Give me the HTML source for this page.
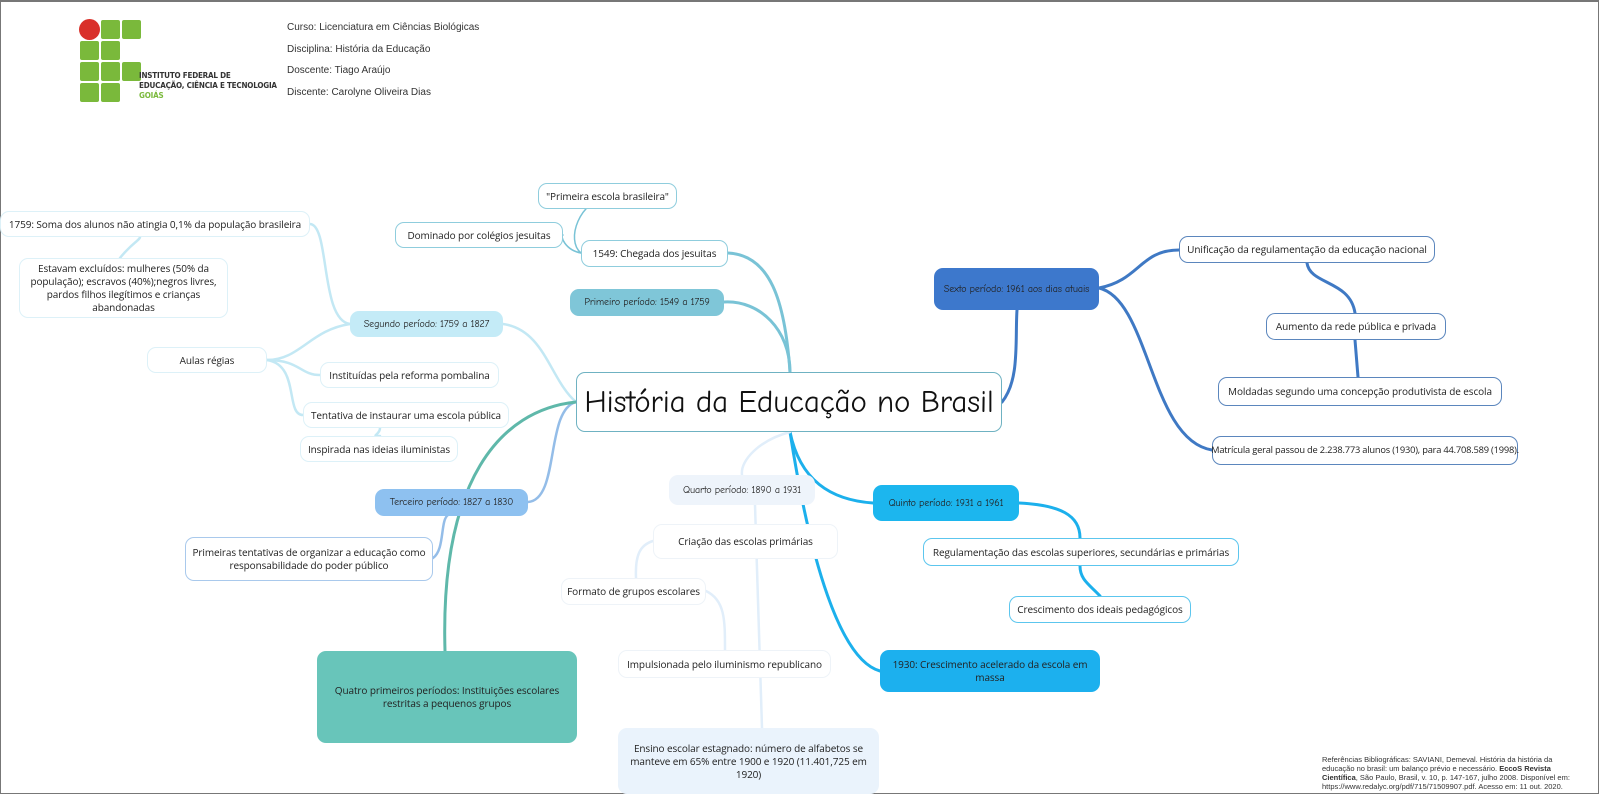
<!DOCTYPE html>
<html><head><meta charset="utf-8"><style>
body{margin:0;width:1600px;height:809px;background:#fff;position:relative;overflow:hidden;font-family:"Open Sans","DejaVu Sans","Liberation Sans",sans-serif;}
.frame{position:absolute;left:0;top:0;width:1597px;height:791px;border:1px solid #777;border-top:2px solid #777;}
.n{position:absolute;box-sizing:border-box;display:flex;align-items:center;justify-content:center;text-align:center;font-size:10px;color:#222;border-radius:9px;background:#fff;line-height:1.3;padding:0 2px;white-space:nowrap;letter-spacing:-0.1px;}
.h{font-family:"Comic Neue","Liberation Sans",sans-serif;}
.t{position:absolute;font-family:"Liberation Sans",sans-serif;font-size:10px;color:#333;}
.sq{position:absolute;width:19px;height:19px;background:#7ab93b;border-radius:2px;}
</style></head><body>
<div class="frame"></div>
<svg width="1600" height="809" style="position:absolute;left:0;top:0" fill="none" stroke-linecap="round">
<g stroke="#79c3d6" stroke-width="3">
<path d="M790 372 C790 330 760 300 724 302"/>
<path d="M790 372 C785 300 770 255 728 253"/>
</g>
<g stroke="#79c3d6" stroke-width="1.5">
<path d="M581 253 C565 250 560 236 563 235"/>
<path d="M581 253 C565 240 580 200 608 197"/>
</g>
<g stroke="#c3e8f4" stroke-width="2.5">
<path d="M576 402 C550 380 545 330 503 324"/>
<path d="M350 324 C320 320 330 225 310 224"/>
<path d="M350 324 C310 330 300 360 267 360"/>
<path d="M267 360 C300 360 300 375 320 375"/>
<path d="M267 360 C300 365 285 415 303 415"/>
<path d="M120 258 C130 245 140 240 140 237"/>
<path d="M380 428 C380 435 370 436 380 436"/>
</g>
<g stroke="#94bde8" stroke-width="2.5">
<path d="M576 402 C545 410 560 500 528 502"/>
<path d="M433 558 C445 550 440 520 448 515"/>
</g>
<path d="M576 402 C500 410 440 480 445 651" stroke="#5fb8aa" stroke-width="3"/>
<g stroke="#1cb0ec" stroke-width="3">
<path d="M790 432 C800 480 830 500 873 503"/>
<path d="M790 432 C810 560 840 660 880 671"/>
<path d="M1019 503 C1060 505 1080 515 1080 538"/>
<path d="M1080 566 C1080 580 1090 585 1100 596"/>
</g>
<g stroke="#e1eefa" stroke-width="2.5">
<path d="M790 432 C760 440 740 460 742 475"/>
<path d="M755 505 L762 728"/>
<path d="M653 541 C640 545 635 555 636 578"/>
<path d="M706 591 C725 600 725 620 725 650"/>
</g>
<g stroke="#3f79c4" stroke-width="3">
<path d="M1002 402 C1020 380 1015 340 1017 310"/>
<path d="M1099 288 C1140 280 1140 250 1179 250"/>
<path d="M1099 288 C1150 300 1150 440 1212 450"/>
<path d="M1307 263 C1310 285 1350 280 1355 313"/>
<path d="M1355 340 L1358 377"/>
</g>
</svg>
<!-- logo -->
<div style="position:absolute;left:79px;top:19px;width:21px;height:21px;border-radius:50%;background:#d9302a"></div>
<div class="sq" style="left:101px;top:20px"></div><div class="sq" style="left:122px;top:20px"></div>
<div class="sq" style="left:80px;top:41px"></div><div class="sq" style="left:101px;top:41px"></div>
<div class="sq" style="left:80px;top:62px"></div><div class="sq" style="left:101px;top:62px"></div><div class="sq" style="left:122px;top:62px"></div>
<div class="sq" style="left:80px;top:83px"></div><div class="sq" style="left:101px;top:83px"></div>
<div style="position:absolute;left:139px;top:71px;font-family:'DejaVu Sans Condensed','Liberation Sans Narrow',sans-serif;font-weight:bold;font-size:8px;line-height:10px;color:#333;letter-spacing:-0.2px;white-space:nowrap">INSTITUTO FEDERAL DE<br>EDUCAÇÃO, CIÊNCIA E TECNOLOGIA<br><span style="color:#7ab93b">GOIÁS</span></div>
<div class="t" style="left:287px;top:22px">Curso: Licenciatura em Ciências Biológicas</div>
<div class="t" style="left:287px;top:44px">Disciplina: História da Educação</div>
<div class="t" style="left:287px;top:65px">Doscente: Tiago Araújo</div>
<div class="t" style="left:287px;top:87px">Discente: Carolyne Oliveira Dias</div>
<div class="t" style="left:1322px;top:755px;font-size:7.5px;line-height:9px;width:260px">Referências Bibliográficas: SAVIANI, Demeval. História da história da educação no brasil: um balanço prévio e necessário. <b>EccoS Revista Científica</b>, São Paulo, Brasil, v. 10, p. 147-167, julho 2008. Disponível em: https://www.redalyc.org/pdf/715/71509907.pdf. Acesso em: 11 out. 2020.</div>

<div class="n h" style="left:576px;top:372px;width:426px;height:60px;border:1.5px solid #6fb2c2;font-size:31px;color:#111">História da Educação no Brasil</div>
<div class="n" style="left:538px;top:183px;width:139px;height:26px;border:1.5px solid #8fcddd">"Primeira escola brasileira"</div>
<div class="n" style="left:395px;top:222px;width:168px;height:26px;border:1.5px solid #8fcddd">Dominado por colégios jesuitas</div>
<div class="n" style="left:581px;top:240px;width:147px;height:27px;border:1.5px solid #8fcddd">1549: Chegada dos jesuitas</div>
<div class="n h" style="left:570px;top:289px;width:154px;height:27px;background:#7fc6d8">Primeiro período: 1549 a 1759</div>
<div class="n" style="left:0px;top:211px;width:310px;height:26px;border:1.5px solid #ddf1f8">1759: Soma dos alunos não atingia 0,1% da população brasileira</div>
<div class="n" style="left:19px;top:258px;width:209px;height:60px;border:1.5px solid #ddf1f8">Estavam excluídos: mulheres (50% da<br>população); escravos (40%);negros livres,<br>pardos filhos ilegítimos e crianças<br>abandonadas</div>
<div class="n h" style="left:350px;top:311px;width:153px;height:26px;background:#c4ebf7">Segundo período: 1759 a 1827</div>
<div class="n" style="left:147px;top:347px;width:120px;height:26px;border:1.5px solid #ddf1f8">Aulas régias</div>
<div class="n" style="left:320px;top:362px;width:179px;height:26px;border:1.5px solid #ddf1f8">Instituídas pela reforma pombalina</div>
<div class="n" style="left:303px;top:402px;width:206px;height:26px;border:1.5px solid #ddf1f8">Tentativa de instaurar uma escola pública</div>
<div class="n" style="left:300px;top:436px;width:158px;height:26px;border:1.5px solid #ddf1f8">Inspirada nas ideias iluministas</div>
<div class="n h" style="left:375px;top:489px;width:153px;height:27px;background:#8ec1f0">Terceiro período: 1827 a 1830</div>
<div class="n" style="left:185px;top:537px;width:248px;height:44px;border:1.5px solid #a9c9ec">Primeiras tentativas de organizar a educação como<br>responsabilidade do poder público</div>
<div class="n" style="left:317px;top:651px;width:260px;height:92px;background:#68c5ba">Quatro primeiros períodos: Instituições escolares<br>restritas a pequenos grupos</div>
<div class="n h" style="left:669px;top:475px;width:146px;height:30px;background:#eef4fb">Quarto período: 1890 a 1931</div>
<div class="n" style="left:653px;top:524px;width:185px;height:35px;border:1.5px solid #eef3f8">Criação das escolas primárias</div>
<div class="n" style="left:561px;top:578px;width:145px;height:27px;border:1.5px solid #eef3f8">Formato de grupos escolares</div>
<div class="n" style="left:618px;top:650px;width:213px;height:28px;border:1.5px solid #eef3f8">Impulsionada pelo iluminismo republicano</div>
<div class="n" style="left:618px;top:728px;width:261px;height:66px;background:#eaf3fc">Ensino escolar estagnado: número de alfabetos se<br>manteve em 65% entre 1900 e 1920 (11.401,725 em<br>1920)</div>
<div class="n h" style="left:873px;top:485px;width:146px;height:36px;background:#1cb6ee">Quinto período: 1931 a 1961</div>
<div class="n" style="left:923px;top:538px;width:316px;height:28px;border:1.5px solid #5cc6ee">Regulamentação das escolas superiores, secundárias e primárias</div>
<div class="n" style="left:1009px;top:596px;width:182px;height:27px;border:1.5px solid #5cc6ee">Crescimento dos ideais pedagógicos</div>
<div class="n" style="left:880px;top:650px;width:220px;height:42px;background:#1cb0ee">1930: Crescimento acelerado da escola em<br>massa</div>
<div class="n h" style="left:934px;top:268px;width:165px;height:42px;background:#3d78cc">Sexto período: 1961 aos dias atuais</div>
<div class="n" style="left:1179px;top:236px;width:256px;height:27px;border:1.5px solid #5b86bd">Unificação da regulamentação da educação nacional</div>
<div class="n" style="left:1266px;top:313px;width:180px;height:27px;border:1.5px solid #5b86bd">Aumento da rede pública e privada</div>
<div class="n" style="left:1218px;top:377px;width:284px;height:29px;border:1.5px solid #5b86bd">Moldadas segundo uma concepção produtivista de escola</div>
<div class="n" style="left:1212px;top:436px;width:306px;height:29px;border:1.5px solid #5b86bd;font-size:9.3px;letter-spacing:-0.2px">Matrícula geral passou de 2.238.773 alunos (1930), para 44.708.589 (1998).</div>
</body></html>
